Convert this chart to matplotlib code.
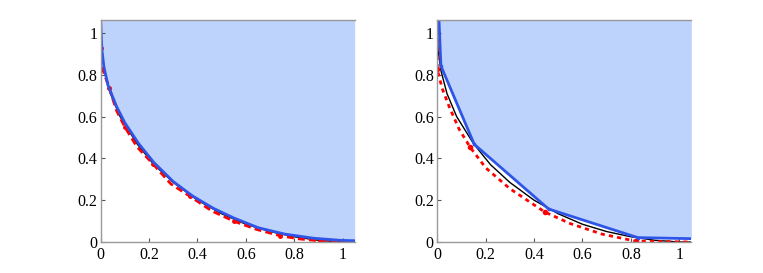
import matplotlib.pyplot as plt
import numpy as np

plt.rcParams["font.family"] = "serif"
plt.rcParams["font.serif"] = ["Liberation Serif", "Times New Roman", "DejaVu Serif"]

# true front (black)
true_x = [0.0, 0.003, 0.015, 0.04, 0.08, 0.15, 0.22, 0.3, 0.4, 0.5, 0.6, 0.7, 0.8, 0.9, 1.0, 1.05]
true_y = [1.05, 0.92, 0.82, 0.71, 0.60, 0.47, 0.37, 0.285, 0.20, 0.135, 0.085, 0.05, 0.025, 0.008, 0.0, 0.0]

# left panel: blue approximation and red estimate
left_blue_x = [0.0, 0.005, 0.013, 0.03, 0.066, 0.1, 0.156, 0.22, 0.30, 0.38, 0.466, 0.55, 0.652, 0.76, 0.88, 0.99, 1.05]
left_blue_y = [1.05, 0.92, 0.84, 0.75, 0.647, 0.57, 0.472, 0.38, 0.289, 0.22, 0.161, 0.115, 0.068, 0.038, 0.018, 0.008, 0.006]
left_red_x = [0.0, 0.0, 0.01, 0.036, 0.065, 0.10, 0.15, 0.215, 0.29, 0.37, 0.46, 0.55, 0.645, 0.742, 0.82, 0.907, 0.98, 1.05]
left_red_y = [1.05, 0.93, 0.82, 0.735, 0.63, 0.55, 0.455, 0.375, 0.278, 0.218, 0.148, 0.1, 0.06, 0.03, 0.015, 0.005, 0.001, 0.0]

# right panel: coarse blue polyline and red estimate
right_blue_x = [0.007, 0.015, 0.153, 0.46, 0.829, 1.05]
right_blue_y = [1.06, 0.842, 0.467, 0.158, 0.021, 0.016]
right_red_x = [0.0, 0.0, 0.02, 0.05, 0.09, 0.136, 0.2, 0.3, 0.445, 0.55, 0.68, 0.82, 1.05]
right_red_y = [1.05, 0.826, 0.735, 0.645, 0.54, 0.453, 0.355, 0.255, 0.143, 0.088, 0.038, 0.004, 0.0]
right_red_marks = [1, 5, 8, 11]

ticks = [0, 0.2, 0.4, 0.6, 0.8, 1]
tick_labels = ["0", "0.2", "0.4", "0.6", "0.8", "1"]

fill_color = "#bdd3fb"
blue = "#2f55e8"

fig = plt.figure(figsize=(7.63, 2.73), dpi=100)
W, H = 763, 273
ax1 = fig.add_axes([100.7 / W, 1 - 242 / H, 254 / W, 222 / H])
ax2 = fig.add_axes([437.3 / W, 1 - 242 / H, 254 / W, 222 / H])


def style(ax):
    ax.set_xlim(0, 1.05)
    ax.set_ylim(0, 1.062)
    ax.set_xticks(ticks)
    ax.set_xticklabels(tick_labels)
    ax.set_yticks(ticks)
    ax.set_yticklabels(tick_labels)
    ax.tick_params(direction="in", length=3, width=0.8, color="#555555",
                   labelsize=11.5)
    ax.tick_params(axis="x", pad=3.5)
    ax.tick_params(axis="y", pad=2.5)
    for s in ["left", "bottom", "top"]:
        ax.spines[s].set_color("#999999")
        ax.spines[s].set_linewidth(1.0)
    ax.spines["right"].set_visible(False)


# left panel
ax1.fill_between(left_blue_x, left_blue_y, 1.1, color=fill_color, lw=0)
ax1.plot(true_x, true_y, color="black", lw=1.0)
ax1.plot(left_red_x, left_red_y, color="red", lw=2.0, ls=(0, (2.5, 1.5)),
         marker="o", ms=2.5, markevery=[1, 3, 5, 7, 9, 11, 13, 15])
ax1.plot(left_blue_x, left_blue_y, color=blue, lw=2.0)
style(ax1)

# right panel
ax2.fill_between(right_blue_x, right_blue_y, 1.1, color=fill_color, lw=0)
ax2.plot(true_x, true_y, color="black", lw=1.0)
ax2.plot(right_red_x, right_red_y, color="red", lw=2.0, ls=(0, (1.5, 1.5)),
         marker="o", ms=3, markevery=right_red_marks)
ax2.plot(right_blue_x, right_blue_y, color=blue, lw=2.0,
         marker="s", ms=2, markevery=[1, 2, 3, 4])
style(ax2)

fig.savefig("out.png", dpi=100)
